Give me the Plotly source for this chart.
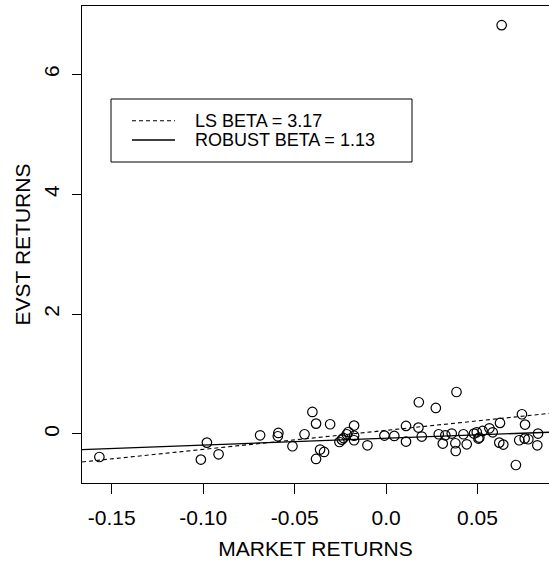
import plotly.graph_objects as go

# ---------------- data ----------------
market_returns = [
    -0.1568, -0.1013, -0.0980, -0.0916, -0.0689, -0.0589, -0.0592, -0.0512,
    -0.0446, -0.0403, -0.0383, -0.0306, -0.0361, -0.0339, -0.0383, -0.0255,
    -0.0242, -0.0233, -0.0215, -0.0206, -0.0175, -0.0175, -0.0175, -0.0102,
    -0.0009, 0.0045, 0.0109, 0.0109, 0.0179, 0.0177, 0.0195, 0.0272,
    0.0288, 0.0310, 0.0324, 0.0359, 0.0385, 0.0379, 0.0381, 0.0423,
    0.0441, 0.0481, 0.0496, 0.0505, 0.0510, 0.0528, 0.0565, 0.0583,
    0.0623, 0.0619, 0.0641, 0.0632, 0.0710, 0.0728, 0.0743, 0.0760,
    0.0758, 0.0778, 0.0831, 0.0827,
]
evst_returns = [
    -0.384, -0.427, -0.144, -0.339, -0.022, 0.017, -0.038, -0.205,
    -0.005, 0.367, 0.173, 0.162, -0.260, -0.300, -0.417, -0.134,
    -0.094, -0.067, -0.005, 0.033, 0.140, -0.030, -0.105, -0.189,
    -0.027, -0.033, 0.134, -0.127, 0.529, 0.107, -0.043, 0.434,
    -0.005, -0.160, -0.022, 0.007, 0.700, -0.155, -0.284, -0.005,
    -0.172, 0.007, 0.028, -0.077, -0.060, 0.050, 0.095, 0.028,
    0.184, -0.144, -0.177, 6.820, -0.518, -0.105, 0.329, 0.157,
    -0.077, -0.088, 0.007, -0.189,
]
ls_beta, ls_alpha = 3.17, 0.060
robust_beta, robust_alpha = 1.13, -0.072
legend_labels = ["LS BETA = 3.17", "ROBUST BETA = 1.13"]

x_ticks = [-0.15, -0.10, -0.05, 0.0, 0.05]
x_tick_labels = ["-0.15", "-0.10", "-0.05", "0.0", "0.05"]
y_ticks = [0, 2, 4, 6]
y_tick_labels = ["0", "2", "4", "6"]

# ---------------- layout geometry ----------------
W, H = 549, 562
ML, MT, MB, MR = 82, 6, 79, 0
x_range = [-0.1663, 0.0891]
y_range = [-0.818, 7.14]
FONT = "Liberation Sans, Arial, sans-serif"

pw = W - ML - MR
ph = H - MT - MB


def px(xp):
    return (xp - ML) / pw


def py(yp):
    return (H - MB - yp) / ph


fig = go.Figure()

fig.add_trace(go.Scatter(
    x=market_returns, y=evst_returns, mode="markers",
    marker=dict(symbol="circle-open", size=9.5, color="black",
                line=dict(width=1.2, color="black")),
    showlegend=False, hoverinfo="x+y"))

xl = list(x_range)
fig.add_trace(go.Scatter(
    x=xl, y=[ls_alpha + ls_beta * v for v in xl], mode="lines",
    line=dict(color="black", width=1.1, dash="4px,3px"),
    name=legend_labels[0], showlegend=False))
fig.add_trace(go.Scatter(
    x=xl, y=[robust_alpha + robust_beta * v for v in xl], mode="lines",
    line=dict(color="black", width=1.3),
    name=legend_labels[1], showlegend=False))

# legend (box, samples, labels)
shapes = [
    dict(type="rect", xref="paper", yref="paper",
         x0=px(111), x1=px(412), y0=py(162), y1=py(99),
         line=dict(color="black", width=1), fillcolor="white", layer="above"),
    dict(type="line", xref="paper", yref="paper",
         x0=px(132), x1=px(175), y0=py(120.8), y1=py(120.8),
         line=dict(color="black", width=1.1, dash="4px,3px"), layer="above"),
    dict(type="line", xref="paper", yref="paper",
         x0=px(132), x1=px(175), y0=py(140), y1=py(140),
         line=dict(color="black", width=1.3), layer="above"),
]
annotations = [
    dict(text=legend_labels[0], xref="paper", yref="paper",
         x=px(193), y=py(120.8), xanchor="left", yanchor="middle",
         showarrow=False, font=dict(family=FONT, size=18, color="black")),
    dict(text=legend_labels[1], xref="paper", yref="paper",
         x=px(193), y=py(140), xanchor="left", yanchor="middle",
         showarrow=False, font=dict(family=FONT, size=18, color="black")),
]

fig.update_layout(
    width=W, height=H,
    margin=dict(l=ML, r=MR, t=MT, b=MB, pad=0),
    paper_bgcolor="white", plot_bgcolor="white",
    font=dict(family=FONT, size=21, color="black"),
    shapes=shapes, annotations=annotations,
    showlegend=False,
)
fig.update_xaxes(
    range=x_range, showgrid=False, zeroline=False,
    showline=True, linecolor="black", linewidth=1, mirror=True,
    ticks="outside", ticklen=10, tickwidth=1, tickcolor="black",
    tickvals=x_ticks, ticktext=x_tick_labels,
    tickfont=dict(family=FONT, size=21), ticklabelstandoff=6,
    title=dict(text="MARKET RETURNS", font=dict(family=FONT, size=21), standoff=13),
    automargin=False,
)
fig.update_yaxes(
    range=y_range, showgrid=False, zeroline=False,
    showline=True, linecolor="black", linewidth=1, mirror=False,
    ticks="outside", ticklen=9, tickwidth=1, tickcolor="black",
    tickvals=y_ticks, ticktext=y_tick_labels, tickangle=-90,
    tickfont=dict(family=FONT, size=21), ticklabelstandoff=5,
    title=dict(text="EVST RETURNS", font=dict(family=FONT, size=21), standoff=3),
    automargin=False,
)

fig.write_html(
    "out.html",
    config={"displayModeBar": False, "staticPlot": True},
    post_script="document.body.style.margin='0px';document.body.style.padding='0px';"
                "document.body.style.overflow='hidden';",
)
